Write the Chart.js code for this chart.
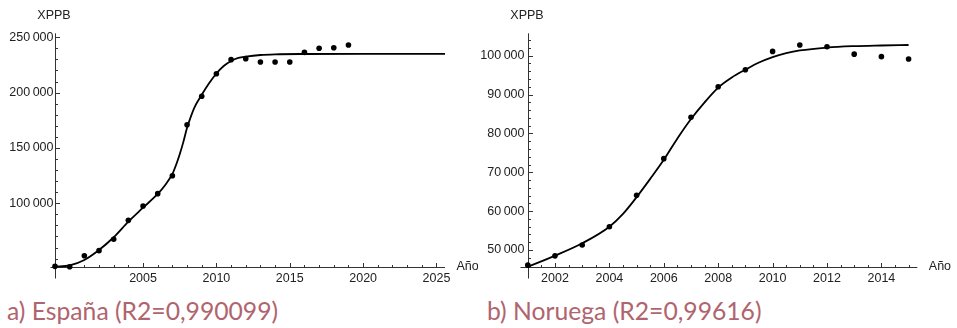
<!DOCTYPE html>
<html>
<head>
<meta charset="utf-8">
<script src="https://cdn.jsdelivr.net/npm/chart.js@4/dist/chart.umd.min.js"></script>
<style>
  html, body { margin: 0; padding: 0; background: #fff; }
  body { width: 957px; height: 328px; position: relative; overflow: hidden; }
  .panel { position: absolute; top: 0; }
  .caption {
    position: absolute; top: 296px;
    font-family: Lato, "Open Sans", sans-serif; font-size: 24.7px; font-weight: 400;
    color: #b0646e; white-space: nowrap; line-height: 30px;
  }
</style>
</head>
<body>
<div class="panel" style="left:0;width:478px;height:290px"><canvas id="es" width="478" height="290"></canvas></div>
<div class="panel" style="left:480px;width:477px;height:290px"><canvas id="no" width="477" height="290"></canvas></div>
<div class="caption" style="left:7px">a) España (R2=0,990099)</div>
<div class="caption" style="left:487px">b) Noruega (R2=0,99616)</div>
<script>
// España: observed XPPB per year
const yearsES = [1999, 2000, 2001, 2002, 2003, 2004, 2005, 2006, 2007, 2008, 2009,
                 2010, 2011, 2012, 2013, 2014, 2015, 2016, 2017, 2018, 2019];
const xppbES = [43000, 42600, 52650, 57200, 67500, 84600, 97600, 108700, 124900, 171000, 196700,
                217100, 229800, 230700, 227700, 227600, 227700, 236400, 240100, 240600, 243000];
// España: fitted curve sampled along the years
const fitYearsES = [1999, 2000, 2001, 2002, 2003, 2004, 2005, 2006, 2006.5, 2007, 2007.25, 2007.5, 2007.75, 2008,
                    2008.25, 2008.5, 2009, 2009.5, 2010, 2010.5, 2011, 2011.5, 2012, 2013, 2014, 2016, 2020, 2025.58];
const fitES = [42800, 43900, 48800, 57800, 69300, 83400, 96000, 108400, 116300, 126500, 134600, 144300, 155500, 168200,
               178000, 186500, 198000, 208400, 217300, 224000, 228600, 231300, 232500, 234000, 234600, 234900, 235000, 235000];

// Noruega: observed XPPB per year
const yearsNO = [2001, 2002, 2003, 2004, 2005, 2006, 2007, 2008, 2009, 2010, 2011, 2012, 2013, 2014, 2015];
const xppbNO = [46100, 48500, 51300, 56000, 64100, 73500, 84150, 92000, 96400, 101100, 102750, 102300, 100400, 99750, 99150];
// Noruega: fitted curve sampled along the years
const fitYearsNO = [2001, 2002, 2003, 2004, 2004.5, 2005, 2005.5, 2006, 2006.5, 2007, 2007.5, 2008,
                    2008.5, 2009, 2009.5, 2010, 2010.5, 2011, 2012, 2013, 2014, 2015];
const fitNO = [45700, 48540, 51730, 56000, 59300, 63600, 68300, 73200, 78700, 83700, 88000, 91800,
               94400, 96400, 98250, 99650, 100650, 101350, 102100, 102450, 102620, 102750];

// Tick labels
const xTicksES = [2005, 2010, 2015, 2020, 2025];
const yTicksES = [100000, 150000, 200000, 250000];
const xTicksNO = [2002, 2004, 2006, 2008, 2010, 2012, 2014];
const yTicksNO = [50000, 60000, 70000, 80000, 90000, 100000];

const AXIS_FONT = '12.5px "Liberation Sans", Arial, sans-serif';

function fmt(n) {
  return String(n).replace(/\B(?=(\d{3})+(?!\d))/g, '\u2009');
}
function steps(from, to, step) {
  const out = [];
  for (let v = from; v <= to + 1e-9; v += step) out.push(Math.round(v * 1000) / 1000);
  return out;
}

// Axes drawn through the origin with inward tick marks
const crossAxes = {
  id: 'crossAxes',
  beforeDatasetsDraw(chart, args, o) {
    const { ctx, chartArea: a, scales: { x, y } } = chart;
    const ox = Math.round(a.left) + 0.5, oy = Math.round(a.bottom) + 0.5;
    ctx.save();
    ctx.strokeStyle = '#333';
    ctx.lineWidth = 1;
    const seg = (x1, y1, x2, y2) => { ctx.beginPath(); ctx.moveTo(x1, y1); ctx.lineTo(x2, y2); ctx.stroke(); };
    seg(ox - o.xOver, oy, a.right, oy);
    seg(ox, a.top, ox, oy + o.yOver);
    o.xMinor.forEach(v => { if (!o.xMajor.includes(v)) { const p = Math.round(x.getPixelForValue(v)) + 0.5; seg(p, oy, p, oy - 2.5); } });
    o.xMajor.forEach(v => { const p = Math.round(x.getPixelForValue(v)) + 0.5; seg(p, oy, p, oy - 4.5); });
    o.yMinor.forEach(v => { if (!o.yMajor.includes(v)) { const p = Math.round(y.getPixelForValue(v)) + 0.5; seg(ox, p, ox + 2.5, p); } });
    o.yMajor.forEach(v => { const p = Math.round(y.getPixelForValue(v)) + 0.5; seg(ox, p, ox + 4.5, p); });

    ctx.fillStyle = '#222';
    ctx.font = AXIS_FONT;
    ctx.textBaseline = 'middle';
    ctx.textAlign = 'center';
    o.xMajor.forEach(v => ctx.fillText(String(v), x.getPixelForValue(v), oy + 11));
    ctx.textAlign = 'right';
    o.yMajor.forEach(v => ctx.fillText(fmt(v), ox - o.labelGap, y.getPixelForValue(v)));
    ctx.textAlign = 'center';
    ctx.fillText('XPPB', ox - 1.5, 16);
    ctx.textAlign = 'left';
    ctx.fillText('Año', a.right + 11.5, oy - 1);
    ctx.restore();
  }
};

function makeChart(id, years, values, fitYears, fitValues, xr, yr, pad, axes) {
  const pts = years.map((t, i) => ({ x: t, y: values[i] }));
  const fit = fitYears.map((t, i) => ({ x: t, y: fitValues[i] }));
  return new Chart(document.getElementById(id), {
    type: 'scatter',
    data: {
      datasets: [
        { type: 'line', data: fit, borderColor: '#000', borderWidth: 1.8, pointRadius: 0,
          cubicInterpolationMode: 'monotone', fill: false, clip: false, order: 2 },
        { type: 'scatter', data: pts, backgroundColor: '#000', borderWidth: 0, pointRadius: 2.8,
          pointHoverRadius: 2.8, clip: false, order: 1 }
      ]
    },
    options: {
      responsive: false,
      animation: false,
      devicePixelRatio: 1,
      layout: { padding: pad },
      plugins: { legend: { display: false }, tooltip: { enabled: false }, crossAxes: axes },
      scales: {
        x: { type: 'linear', min: xr[0], max: xr[1], display: false },
        y: { type: 'linear', min: yr[0], max: yr[1], display: false }
      }
    },
    plugins: [crossAxes]
  });
}

makeChart('es', yearsES, xppbES, fitYearsES, fitES,
  [1999, 2025.58], [42700, 253600],
  { left: 55, right: 33, top: 33.3, bottom: 23.3 },
  { xMajor: xTicksES, xMinor: steps(2000, 2025, 1), yMajor: yTicksES, yMinor: steps(50000, 250000, 10000),
    xOver: 5, yOver: 11, labelGap: 2 });

makeChart('no', yearsNO, xppbNO, fitYearsNO, fitNO,
  [2001, 2015.32], [45625, 105760],
  { left: 47.8, right: 39.7, top: 33.3, bottom: 23 },
  { xMajor: xTicksNO, xMinor: steps(2001.5, 2015, 0.5), yMajor: yTicksNO, yMinor: steps(46000, 104000, 2000),
    xOver: 8, yOver: 11, labelGap: 4 });
</script>
</body>
</html>
